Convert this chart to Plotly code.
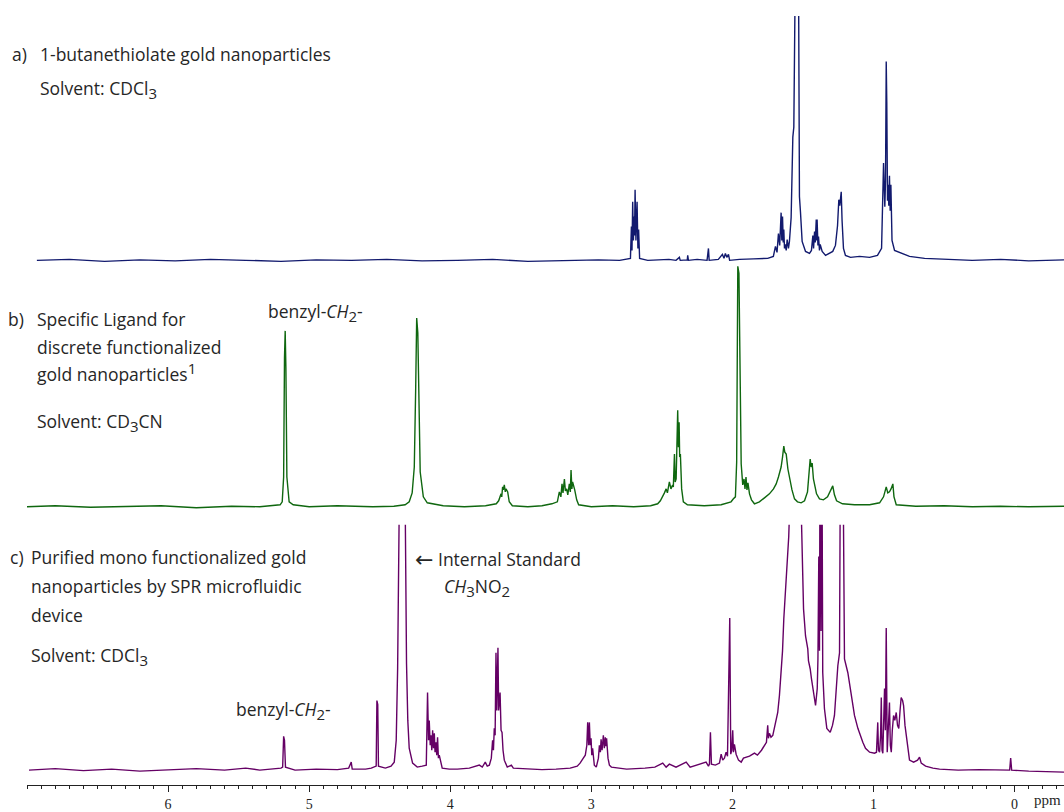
import plotly.graph_objects as go

# ---------------- data (ppm, relative intensity) ----------------
A_POINTS = [
    (6.93, 0), (6.70, 1), (6.45, -1), (6.20, 0.5), (5.95, -0.5), (5.70, 1), (5.45, 0),
    (5.20, -1), (4.95, 0.5), (4.70, 0), (4.45, 1), (4.20, -0.5), (3.95, 0), (3.70, 1),
    (3.45, -1), (3.20, 0), (2.95, 0.5), (2.80, 0), (2.74, 1),
    (2.723, 2), (2.716, 34), (2.712, 10), (2.707, 59), (2.702, 20), (2.697, 44),
    (2.694, 25), (2.690, 71), (2.684, 20), (2.676, 59), (2.670, 12), (2.665, 31), (2.658, 2),
    (2.60, 0), (2.45, 1), (2.40, 0), (2.376, 3), (2.37, 0), (2.32, 0.5), (2.317, 5),
    (2.312, 0), (2.25, 1), (2.18, 0), (2.170, 12), (2.165, 0), (2.10, 1), (2.071, 6),
    (2.060, 2), (2.050, 7), (2.040, 3), (2.028, 6), (2.020, 0), (1.95, 1), (1.85, 1.5),
    (1.75, 2), (1.71, 4),
    (1.695, 14), (1.684, 8), (1.674, 27), (1.665, 15), (1.655, 48), (1.650, 20),
    (1.645, 44), (1.640, 18), (1.636, 31), (1.631, 12), (1.626, 16), (1.619, 10),
    (1.612, 21), (1.603, 12), (1.596, 19),
    (1.584, 43), (1.572, 124), (1.565, 134), (1.560, 400), (1.553, 300), (1.546, 420),
    (1.539, 330), (1.532, 300), (1.530, 171), (1.525, 64), (1.518, 49), (1.506, 19),
    (1.482, 9), (1.454, 7),
    (1.440, 10), (1.430, 25), (1.425, 12), (1.418, 29), (1.413, 18), (1.406, 41),
    (1.402, 20), (1.400, 41), (1.394, 15), (1.390, 24), (1.383, 10), (1.378, 16),
    (1.364, 9), (1.340, 5), (1.289, 9),
    (1.270, 15), (1.255, 35), (1.246, 61), (1.239, 55), (1.229, 69), (1.223, 40),
    (1.213, 12), (1.199, 5), (1.163, 3), (1.099, 4), (1.028, 3), (0.972, 5), (0.943, 12),
    (0.929, 98), (0.924, 60), (0.920, 54), (0.915, 80), (0.910, 200), (0.906, 159),
    (0.901, 60), (0.896, 76), (0.892, 55), (0.887, 85), (0.882, 50), (0.877, 76),
    (0.869, 20), (0.851, 10), (0.816, 8), (0.745, 4), (0.638, 2), (0.50, 1), (0.30, 0),
    (0.10, 1), (-0.10, -0.5), (-0.35, 0.5),
]

B_POINTS = [
    (7.02, 0), (6.80, 1), (6.55, -0.5), (6.30, 0.5), (6.05, 1), (5.80, -1), (5.55, 0.5),
    (5.35, 0), (5.25, 1),
    (5.206, 2), (5.191, 5), (5.181, 30), (5.175, 150), (5.170, 177), (5.165, 140),
    (5.158, 30), (5.142, 5), (5.113, 2),
    (5.00, 0), (4.80, 1), (4.55, 0), (4.40, 0.5), (4.32, 2),
    (4.291, 5), (4.270, 14), (4.255, 40), (4.245, 120), (4.238, 190), (4.230, 175),
    (4.223, 110), (4.213, 35), (4.191, 10), (4.163, 4),
    (4.05, 1), (3.90, 0), (3.75, 1), (3.69, 2),
    (3.674, 3), (3.657, 6), (3.640, 13), (3.635, 10), (3.629, 20), (3.624, 17),
    (3.617, 22), (3.610, 15), (3.605, 18), (3.593, 15), (3.582, 5), (3.560, 1),
    (3.45, 0), (3.35, 1), (3.28, 3),
    (3.241, 5), (3.227, 15), (3.216, 10), (3.208, 23), (3.201, 14), (3.191, 28),
    (3.184, 16), (3.175, 18), (3.167, 12), (3.156, 23), (3.149, 15), (3.144, 37),
    (3.138, 18), (3.133, 25), (3.118, 17), (3.104, 7), (3.090, 2),
    (3.00, 0), (2.85, 1), (2.70, 0), (2.58, 1), (2.53, 3),
    (2.511, 6), (2.494, 10), (2.482, 14), (2.470, 18), (2.461, 14), (2.447, 25),
    (2.436, 18), (2.424, 22), (2.419, 20), (2.411, 53), (2.406, 25), (2.399, 28),
    (2.394, 50), (2.388, 97), (2.383, 60), (2.378, 85), (2.374, 50), (2.369, 53),
    (2.360, 18), (2.348, 5), (2.319, 2),
    (2.20, 1), (2.08, 2), (2.01, 5),
    (1.993, 8), (1.979, 10), (1.970, 45), (1.962, 242), (1.954, 235), (1.943, 80),
    (1.938, 43), (1.927, 22), (1.918, 28), (1.911, 18), (1.904, 30), (1.897, 17),
    (1.890, 24), (1.879, 13), (1.865, 7), (1.844, 3), (1.809, 5), (1.773, 9),
    (1.738, 13), (1.709, 18), (1.690, 23), (1.674, 30), (1.655, 40), (1.645, 50),
    (1.636, 61), (1.629, 55), (1.619, 53), (1.607, 38), (1.596, 30), (1.578, 17),
    (1.560, 8), (1.539, 5), (1.513, 4), (1.489, 6), (1.468, 15), (1.454, 35),
    (1.449, 48), (1.442, 40), (1.435, 44), (1.426, 28), (1.418, 23), (1.404, 13),
    (1.383, 8), (1.355, 7), (1.326, 10), (1.305, 16), (1.289, 21), (1.277, 12),
    (1.262, 6), (1.220, 3), (1.135, 2), (1.028, 2), (0.957, 4), (0.929, 10),
    (0.910, 20), (0.899, 14), (0.887, 15), (0.876, 18), (0.863, 23), (0.855, 10),
    (0.839, 2), (0.70, 0.5), (0.50, 1), (0.30, 0), (0.10, 0.5), (-0.10, 0), (-0.35, 0.5),
]

C_POINTS = [
    (6.986, 0), (6.80, 1.5), (6.60, -0.5), (6.40, 1), (6.20, -1), (6.00, 0.5), (5.80, 1.5),
    (5.60, 0), (5.45, 2), (5.35, 0), (5.25, 1), (5.20, 2),
    (5.188, 3), (5.181, 34), (5.175, 30), (5.168, 3),
    (5.10, 0), (4.95, 1), (4.80, 0.5), (4.72, 2), (4.702, 8), (4.695, 1), (4.60, 1),
    (4.56, 2),
    (4.525, 4), (4.520, 70), (4.514, 66), (4.509, 4),
    (4.46, 2), (4.42, 4),
    (4.397, 8), (4.383, 30), (4.373, 103), (4.362, 260), (4.355, 600), (4.340, 900),
    (4.326, 600), (4.319, 260), (4.310, 107), (4.301, 50), (4.291, 22), (4.267, 7),
    (4.234, 3), (4.199, 4),
    (4.170, 5), (4.161, 78), (4.154, 30), (4.149, 50), (4.142, 25), (4.137, 35),
    (4.131, 20), (4.125, 40), (4.119, 22), (4.113, 37), (4.108, 18), (4.101, 28),
    (4.096, 15), (4.090, 33), (4.084, 12), (4.078, 15), (4.066, 8), (4.057, 2),
    (4.007, 1), (3.95, 1), (3.865, 2), (3.794, 5), (3.773, 3), (3.752, 8), (3.738, 4),
    (3.723, 5),
    (3.709, 12), (3.700, 30), (3.694, 20), (3.688, 42), (3.682, 35), (3.676, 118),
    (3.670, 60), (3.662, 123), (3.657, 60), (3.652, 70), (3.647, 78), (3.640, 40),
    (3.633, 38), (3.626, 20), (3.617, 10), (3.596, 3), (3.567, 5), (3.553, 2),
    (3.45, 1), (3.35, 0.5), (3.25, 1), (3.15, 2), (3.10, 4), (3.08, 7),
    (3.057, 12), (3.043, 15), (3.032, 25), (3.026, 48), (3.019, 25), (3.014, 48),
    (3.008, 25), (3.002, 32), (2.997, 15), (2.991, 22), (2.979, 5), (2.965, 3),
    (2.950, 12), (2.943, 25), (2.936, 18), (2.931, 31), (2.924, 20), (2.915, 35),
    (2.908, 22), (2.901, 33), (2.896, 24), (2.892, 32), (2.882, 12), (2.872, 5),
    (2.858, 3),
    (2.75, 1), (2.62, 2), (2.55, 3), (2.494, 7), (2.47, 3), (2.447, 6), (2.40, 3),
    (2.328, 8), (2.30, 3), (2.187, 8), (2.17, 4),
    (2.163, 6), (2.156, 38), (2.149, 6),
    (2.121, 5), (2.092, 7), (2.080, 16), (2.069, 10), (2.057, 12), (2.045, 18),
    (2.035, 14), (2.026, 92), (2.019, 153), (2.012, 16), (2.005, 20), (1.998, 40),
    (1.993, 18), (1.986, 26), (1.974, 16), (1.957, 10), (1.938, 8),
    (1.922, 12), (1.903, 13), (1.879, 14), (1.844, 17), (1.823, 15), (1.794, 20),
    (1.773, 25), (1.759, 28), (1.750, 45), (1.745, 32), (1.738, 37), (1.727, 33),
    (1.714, 35), (1.695, 46), (1.679, 58), (1.667, 75), (1.655, 95), (1.645, 120),
    (1.636, 152), (1.628, 170), (1.619, 188), (1.610, 210), (1.601, 235), (1.591, 280),
    (1.574, 360), (1.553, 420), (1.532, 380), (1.518, 300), (1.509, 250), (1.496, 162),
    (1.482, 135), (1.466, 122), (1.461, 110), (1.449, 102), (1.440, 92), (1.430, 82),
    (1.411, 65), (1.399, 82), (1.394, 112), (1.388, 215), (1.383, 120), (1.378, 400),
    (1.372, 140), (1.367, 380), (1.360, 98), (1.348, 62), (1.331, 42), (1.307, 38),
    (1.291, 45), (1.277, 55), (1.253, 105), (1.241, 118), (1.234, 350), (1.227, 400),
    (1.218, 350), (1.206, 112), (1.182, 98), (1.163, 80), (1.147, 65), (1.135, 55),
    (1.111, 42), (1.092, 33), (1.076, 28), (1.057, 22), (1.028, 18), (0.993, 17),
    (0.979, 18), (0.970, 48), (0.965, 20), (0.957, 18), (0.950, 35), (0.945, 73),
    (0.940, 20), (0.934, 17), (0.928, 50), (0.922, 82), (0.916, 40), (0.910, 143),
    (0.903, 18), (0.895, 45), (0.887, 68), (0.881, 25), (0.874, 18), (0.867, 40),
    (0.858, 55), (0.849, 50), (0.839, 58), (0.830, 45), (0.821, 42), (0.812, 60),
    (0.804, 73), (0.794, 70), (0.787, 65), (0.777, 45), (0.768, 35), (0.755, 20),
    (0.745, 10), (0.716, 8), (0.688, 10), (0.674, 13), (0.662, 7), (0.631, 4),
    (0.579, 2), (0.532, 1), (0.40, 0), (0.25, 0.5), (0.10, 0), (0.035, 0), (0.028, 12),
    (0.021, 0), (-0.10, -1), (-0.20, -1.5), (-0.35, -2),
]

TICK_VALUES = [0, 1, 2, 3, 4, 5, 6]
TICK_LABELS = ["0", "1", "2", "3", "4", "5", "6"]

COLOR_A = "#121a6e"
COLOR_B = "#0f670f"
COLOR_C = "#650065"
TEXT = "#262626"

W, H = 1064, 812
PLOT_BOTTOM = 790  # pixel row of the ppm axis line
FS = 17.5


def split(points):
    pts = sorted(points, key=lambda p: -p[0])
    return [p[0] for p in pts], [p[1] for p in pts]


def ypaper(py):
    return (PLOT_BOTTOM - py) / PLOT_BOTTOM


fig = go.Figure()
for pts, col, ya in ((A_POINTS, COLOR_A, "y"), (B_POINTS, COLOR_B, "y2"), (C_POINTS, COLOR_C, "y3")):
    xs, ys = split(pts)
    fig.add_trace(go.Scatter(x=xs, y=ys, mode="lines", xaxis="x", yaxis=ya,
                             line=dict(color=col, width=1.4), hoverinfo="skip"))


def label(text, px, py, size=FS, family="Open Sans"):
    return dict(x=px / W, y=ypaper(py), xref="paper", yref="paper", text=text,
                showarrow=False, xanchor="left", yanchor="middle",
                font=dict(family=family, size=size, color=TEXT))


def sub(t):
    return "<sub><span style='font-size:15px'>%s</span></sub>" % t


def sup(t):
    return "<sup><span style='font-size:15px'>%s</span></sup>" % t


annotations = [
    label("a)", 10, 54),
    label("1-butanethiolate gold nanoparticles", 38, 54),
    label("Solvent: CDCl" + sub("3"), 38, 90),
    label("b)", 6, 321),
    label("Specific Ligand for", 35, 321),
    label("discrete functionalized", 35, 349),
    label("gold nanoparticles" + sup("1"), 35, 374),
    label("Solvent: CD" + sub("3") + "CN", 35, 425),
    label("benzyl-<i>CH</i>" + sub("2") + "-", 266, 314),
    label("c)", 8, 561),
    label("Purified mono functionalized gold", 29, 561),
    label("nanoparticles by SPR microfluidic", 29, 590),
    label("device", 29, 619),
    label("Solvent: CDCl" + sub("3"), 29, 661),
    label("\u2190", 413, 563, size=22, family="DejaVu Sans"),
    label("Internal Standard", 436, 563),
    label("<i>CH</i>" + sub("3") + "NO" + sub("2"), 442, 591),
    label("benzyl-<i>CH</i>" + sub("2") + "-", 234, 715),
    label("ppm", 1032, 805, size=15, family="Liberation Serif"),
]

fig.update_layout(
    width=W, height=H,
    margin=dict(l=0, r=0, t=0, b=H - PLOT_BOTTOM, pad=0),
    paper_bgcolor="white", plot_bgcolor="rgba(0,0,0,0)",
    showlegend=False, hovermode=False,
    annotations=annotations,
    xaxis=dict(domain=[27 / W, 1], range=[7.0, -0.35], anchor="y3",
               showgrid=False, zeroline=False, showline=True, linecolor="#222", linewidth=1,
               ticks="outside", ticklen=6, tickwidth=1, tickcolor="#222",
               tickmode="array", tickvals=TICK_VALUES, ticktext=TICK_LABELS,
               tickfont=dict(family="Liberation Serif", size=14, color="#222"),
               minor=dict(dtick=0.1, tick0=0, ticks="outside", ticklen=3, tickcolor="#222",
                          showgrid=False)),
    yaxis=dict(domain=[ypaper(272), ypaper(16)], range=[-10, 246], visible=False),
    yaxis2=dict(domain=[ypaper(527), ypaper(262)], range=[-17, 248], visible=False),
    yaxis3=dict(domain=[0, ypaper(528)], range=[-15, 247], visible=False),
)

fig.write_html("out.html")
